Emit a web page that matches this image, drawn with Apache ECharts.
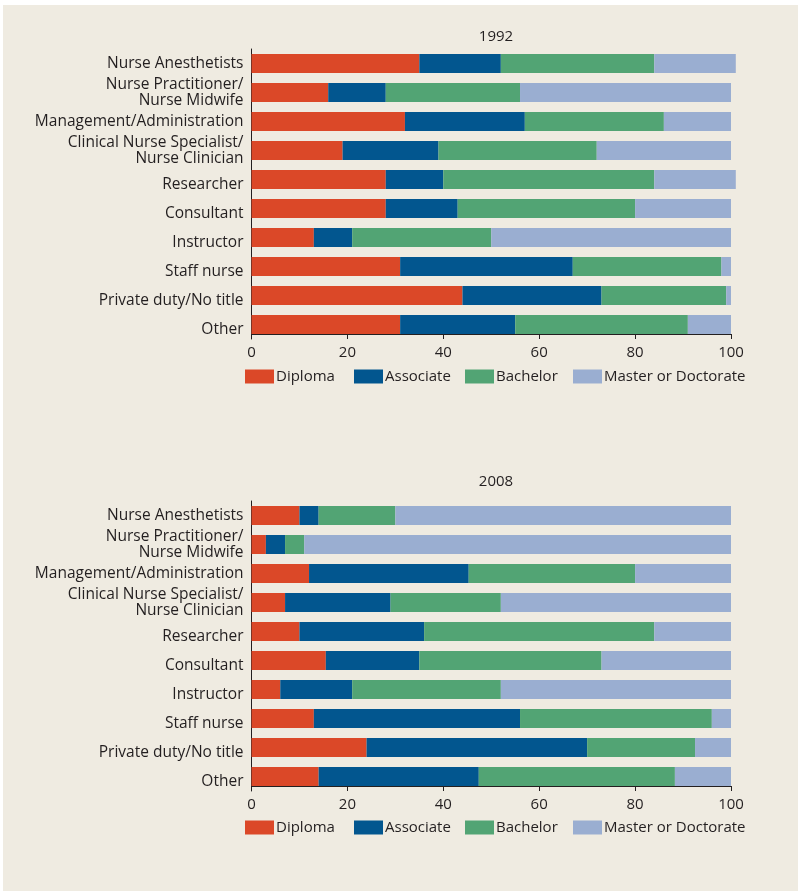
<!DOCTYPE html>
<html>
<head>
<meta charset="utf-8">
<script src="https://cdn.jsdelivr.net/npm/echarts@6/dist/echarts.min.js"></script>
<style>
  html, body { margin: 0; padding: 0; background: #ffffff; }
  .panel {
    position: absolute;
    left: 3px;
    top: 5px;
    width: 795px;
    height: 886px;
    background: #efebe1;
  }
  #chart {
    position: absolute;
    left: 0;
    top: 0;
    width: 798px;
    height: 891px;
  }
</style>
</head>
<body>
<div class="panel"></div>
<div id="chart"></div>
<script>
  const categories = [
    'Nurse Anesthetists',
    'Nurse Practitioner/\nNurse Midwife',
    'Management/Administration',
    'Clinical Nurse Specialist/\nNurse Clinician',
    'Researcher',
    'Consultant',
    'Instructor',
    'Staff nurse',
    'Private duty/No title',
    'Other'
  ]
  const seriesNames = ['Diploma', 'Associate', 'Bachelor', 'Master or Doctorate']
  const xTicks = [0, 20, 40, 60, 80, 100]

  // 1992
  const diploma1992 = [35, 16, 32, 19, 28, 28, 13, 31, 44, 31]
  const associate1992 = [17, 12, 25, 20, 12, 15, 8, 36, 29, 24]
  const bachelor1992 = [32, 28, 29, 33, 44, 37, 29, 31, 26, 36]
  const master1992 = [17, 44, 14, 28, 17, 20, 50, 2, 1, 9]

  // 2008
  const diploma2008 = [10, 3, 12, 7, 10, 15.5, 6, 13, 24, 14]
  const associate2008 = [4, 4, 33.3, 22, 26, 19.5, 15, 43, 46, 33.4]
  const bachelor2008 = [16, 4, 34.7, 23, 48, 38, 31, 40, 22.5, 40.9]
  const master2008 = [70, 89, 20, 48, 16, 27, 48, 4, 7.5, 11.7]

  const colors = ['#db4828', '#02568f', '#52a474', '#9aaed1']
  const textColor = '#231f20'
  const font = 'Open Sans'

  // legend swatch left edges
  const legendLefts = [245, 354, 465, 573]

  let chart = echarts.init(document.getElementById('chart'))

  function makeSeries(data, idx, stack) {
    return data.map((d, i) => ({
      name: seriesNames[i],
      type: 'bar',
      stack: stack,
      xAxisIndex: idx,
      yAxisIndex: idx,
      barWidth: 19,
      clip: false,
      itemStyle: { color: colors[i] },
      data: d
    }))
  }

  function makeXAxis(idx) {
    return {
      type: 'value',
      gridIndex: idx,
      min: 0,
      max: 100,
      interval: 20,
      offset: -5,
      splitLine: { show: false },
      axisLine: { show: true, lineStyle: { color: '#231f20', width: 1 } },
      axisTick: { show: true, length: 5, lineStyle: { color: '#231f20' } },
      axisLabel: {
        color: textColor,
        fontFamily: font,
        fontSize: 15,
        margin: 11,
        formatter: (v) => xTicks.indexOf(v) >= 0 ? String(v) : ''
      }
    }
  }

  function makeYAxis(idx) {
    return {
      type: 'category',
      gridIndex: idx,
      inverse: true,
      data: categories,
      axisLine: { show: true, lineStyle: { color: '#231f20', width: 1 } },
      axisTick: { show: false },
      axisLabel: {
        color: textColor,
        fontFamily: font,
        fontSize: 15.5,
        lineHeight: 16,
        margin: 8,
        align: 'right',
        // the lower single-line labels sit a little below their bars in the original
        formatter: (v, i) => i >= 4 ? '{lo|' + v + '}' : v,
        rich: {
          lo: {
            color: textColor,
            fontFamily: font,
            fontSize: 15.5,
            lineHeight: 16,
            padding: [10, 0, 0, 0]
          }
        }
      }
    }
  }

  function makeLegends(top) {
    return seriesNames.map((name, i) => ({
      data: [name],
      left: legendLefts[i],
      top: top,
      itemWidth: 29,
      itemHeight: 14,
      padding: 0,
      icon: 'rect',
      textStyle: {
        color: textColor,
        fontFamily: font,
        fontSize: 15,
        padding: [0, 0, 0, -3]
      }
    }))
  }

  const option = {
    animation: false,
    backgroundColor: 'transparent',
    title: [
      {
        text: '1992',
        left: 491,
        top: 24,
        textAlign: 'center',
        textStyle: { color: textColor, fontFamily: font, fontSize: 15, fontWeight: 'normal' }
      },
      {
        text: '2008',
        left: 491,
        top: 469,
        textAlign: 'center',
        textStyle: { color: textColor, fontFamily: font, fontSize: 15, fontWeight: 'normal' }
      }
    ],
    legend: [].concat(makeLegends(369), makeLegends(820)),
    grid: [
      { left: 251.5, width: 479.5, top: 49, height: 290 },
      { left: 251.5, width: 479.5, top: 501, height: 290 }
    ],
    xAxis: [makeXAxis(0), makeXAxis(1)],
    yAxis: [makeYAxis(0), makeYAxis(1)],
    series: [].concat(
      makeSeries([diploma1992, associate1992, bachelor1992, master1992], 0, 'y1992'),
      makeSeries([diploma2008, associate2008, bachelor2008, master2008], 1, 'y2008')
    )
  }

  chart.setOption(option)
</script>
</body>
</html>
